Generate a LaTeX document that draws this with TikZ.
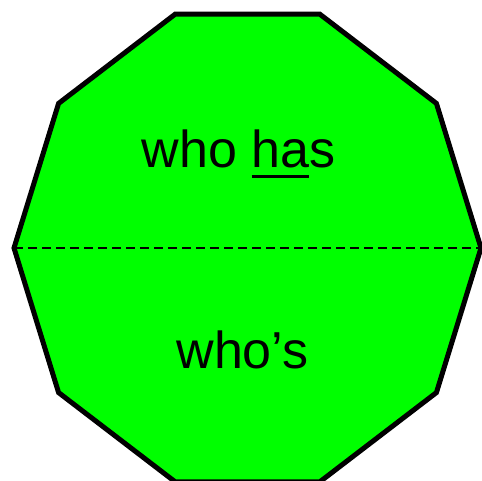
\documentclass[tikz,border=0pt]{standalone}
\usepackage{fontspec}
\setmainfont{Liberation Sans}
\definecolor{brightgreen}{RGB}{0,255,0}
\newlength\ulwidth
\newcommand\thickul[1]{\settowidth\ulwidth{#1}\rlap{\rule[-10.5pt]{\ulwidth}{3pt}}#1}
\tikzset{
  deca/.style={fill=brightgreen, draw=black, line width=5pt, line join=miter},
  fold/.style={draw=black, line width=2.5pt, dash pattern=on 9pt off 5pt},
  word/.style={font=\fontsize{52}{60}\selectfont, anchor=base, inner sep=0pt}
}
\begin{document}
\begin{tikzpicture}[x=1pt,y=-1pt]
\useasboundingbox (0,0) rectangle (482,481);
\def\cx{247.5}\def\cy{248}\def\ra{233.5}\def\rb{246}
\foreach \i in {0,...,9} {
  \coordinate (v\i) at ({\cx+\ra*cos(36*\i)},{\cy-\rb*sin(36*\i)});
}
\path[deca] (v0) -- (v1) -- (v2) -- (v3) -- (v4) -- (v5) -- (v6) -- (v7) -- (v8) -- (v9) -- cycle;
\draw[fold] (v5) -- (v0);
\node[word] (top) at (238.5,168) {who \thickul{ha}s};
\node[word] (bot) at (242.5,368) {who’s};
\end{tikzpicture}
\end{document}
